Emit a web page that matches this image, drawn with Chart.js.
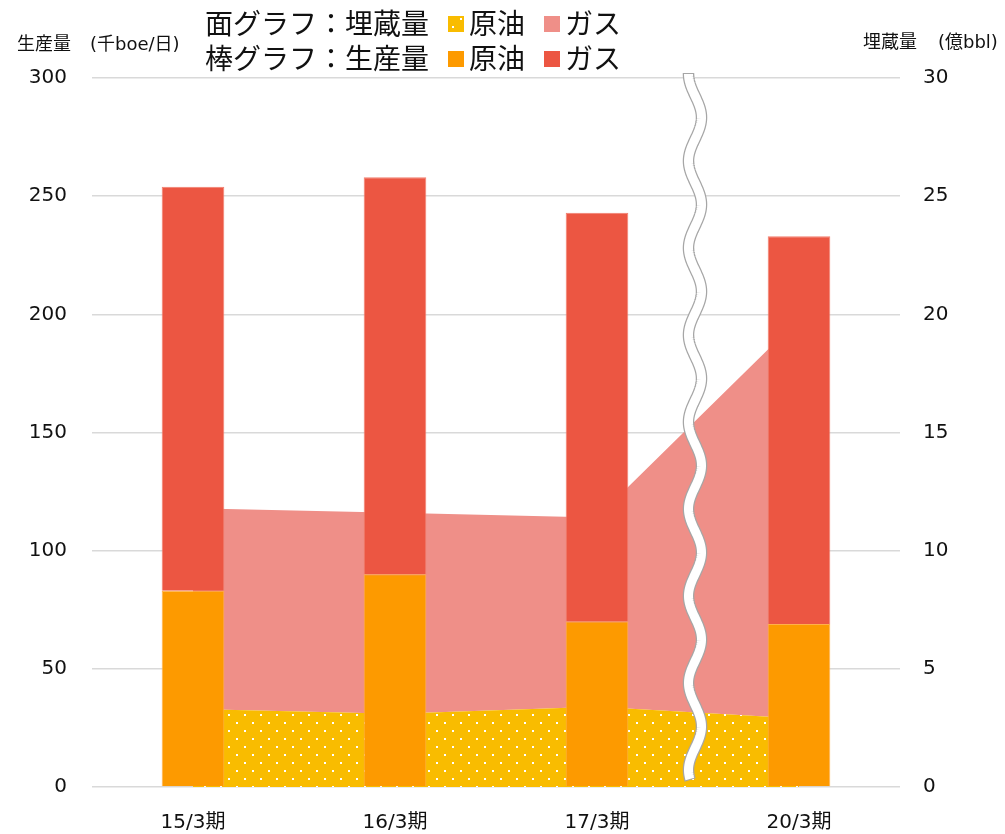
<!DOCTYPE html>
<html>
<head>
<meta charset="utf-8">
<script src="https://cdn.jsdelivr.net/npm/chart.js@4"></script>
<style>
  html, body { margin: 0; padding: 0; background: #fff; }
  #wrap { width: 1005px; height: 834px; position: relative; }
</style>
</head>
<body>
<div id="wrap"><canvas id="chart" width="1005" height="834"></canvas></div>
<script>
// 決算期
const categories = ['15/3期', '16/3期', '17/3期', '20/3期'];
// 棒グラフ：生産量（千boe/日）
const prodOil = [83, 90, 70, 69];
const prodGas = [171, 168, 173, 164];
// 面グラフ：埋蔵量（億bbl）
const reserveOil = [3.3, 3.1, 3.4, 2.9];
const reserveGas = [8.5, 8.5, 8.0, 16.9];
// 目盛
const leftTicks = [0, 50, 100, 150, 200, 250, 300];
const rightTicks = [0, 5, 10, 15, 20, 25, 30];

const FONT = '"DejaVu Sans", "Noto Sans CJK JP", sans-serif';
const JFONT = '"Noto Sans CJK JP", sans-serif';

const C_OIL_BAR = '#FD9A00';
const C_GAS_BAR = '#EC5642';
const C_OIL_AREA = '#F9BC00';
const C_GAS_AREA = '#EF8F88';

// 黄色に白い点の模様
function makeDots() {
    const c = document.createElement('canvas');
    c.width = 16; c.height = 16;
    const g = c.getContext('2d');
    g.fillStyle = C_OIL_AREA;
    g.fillRect(0, 0, 16, 16);
    g.fillStyle = '#fff';
    g.fillRect(4, 10, 2, 2);
    g.fillRect(12, 2, 2, 2);
    return g.createPattern(c, 'repeat');
}
const dots = makeDots();

// 凡例・軸タイトル・波線
const decor = {
    id: 'decor',
    afterDraw(chart) {
        const ctx = chart.ctx;
        const x = chart.scales.x;
        const area = chart.chartArea;

        // 波線（17/3期と20/3期の間）
        const cx = (x.getPixelForValue(2) + x.getPixelForValue(3)) / 2 - 3;
        const y0 = area.top - 4, y1 = area.bottom - 8;
        const wave = (a, b) => {
            ctx.beginPath();
            for (let y = a; y <= b; y += 1) {
                const wx = cx - 6.5 * Math.cos(2 * Math.PI * (y - y0) / 87);
                if (y === a) ctx.moveTo(wx, y); else ctx.lineTo(wx, y);
            }
        };
        ctx.save();
        ctx.lineCap = 'butt';
        wave(y0 - 1, y1 + 1);
        ctx.strokeStyle = '#a6a6a6';
        ctx.lineWidth = 11.5;
        ctx.stroke();
        wave(y0, y1);
        ctx.strokeStyle = '#fff';
        ctx.lineWidth = 9;
        ctx.stroke();
        ctx.restore();

        // 軸タイトル
        ctx.save();
        ctx.fillStyle = '#111';
        ctx.textBaseline = 'middle';
        ctx.font = '18px ' + FONT;
        ctx.textAlign = 'left';
        ctx.fillText('生産量', 17, 45);
        ctx.fillText('(千boe/日)', 90, 45);
        ctx.fillText('埋蔵量', 863, 43);
        ctx.fillText('(億bbl)', 938, 43);

        // 凡例
        const rows = [
            { label: '面グラフ：埋蔵量', y: 23, items: [['原油', dots], ['ガス', C_GAS_AREA]] },
            { label: '棒グラフ：生産量', y: 58, items: [['原油', C_OIL_BAR], ['ガス', C_GAS_BAR]] }
        ];
        ctx.font = '28px ' + JFONT;
        rows.forEach(r => {
            let px = 205;
            ctx.fillStyle = '#111';
            ctx.fillText(r.label, px, r.y);
            px += ctx.measureText(r.label).width + 19;
            r.items.forEach(([t, col]) => {
                ctx.fillStyle = col;
                ctx.fillRect(px, r.y - 7, 16, 16);
                px += 21;
                ctx.fillStyle = '#111';
                ctx.fillText(t, px, r.y);
                px += ctx.measureText(t).width + 19;
            });
        });
        ctx.restore();
    }
};

const barOpts = { categoryPercentage: 1, barPercentage: 0.31, borderWidth: 1, yAxisID: 'y', stack: 'prod', order: 0 };

const ctx = document.getElementById('chart').getContext('2d');
new Chart(ctx, {
    data: {
        labels: categories,
        datasets: [
            Object.assign({
                type: 'bar', label: '生産量 原油', data: prodOil,
                backgroundColor: C_OIL_BAR, borderColor: '#FFB04A'
            }, barOpts),
            Object.assign({
                type: 'bar', label: '生産量 ガス', data: prodGas,
                backgroundColor: C_GAS_BAR, borderColor: '#F27E6E'
            }, barOpts),
            {
                type: 'line', label: '埋蔵量 原油', data: reserveOil, yAxisID: 'y2', stack: 'res', order: 1,
                backgroundColor: dots, borderWidth: 0, pointRadius: 0, tension: 0, fill: 'origin'
            },
            {
                type: 'line', label: '埋蔵量 ガス', data: reserveGas, yAxisID: 'y2', stack: 'res', order: 1,
                backgroundColor: C_GAS_AREA, borderWidth: 0, pointRadius: 0, tension: 0, fill: '-1'
            }
        ]
    },
    options: {
        responsive: false,
        animation: false,
        layout: { padding: { top: 78, left: 0, right: 0, bottom: 0 } },
        plugins: {
            legend: { display: false },
            tooltip: { enabled: false }
        },
        scales: {
            x: {
                stacked: true,
                grid: { display: false, drawTicks: false, tickLength: 0 },
                border: { display: false },
                ticks: { color: '#111', font: { family: FONT, size: 20 }, padding: 24 },
                afterFit: s => { s.height = 47; }
            },
            y: {
                position: 'left',
                stacked: true,
                min: 0, max: 300,
                afterBuildTicks: s => { s.ticks = leftTicks.map(v => ({ value: v })); },
                grid: { color: '#d9d9d9', lineWidth: 1.5, drawTicks: false, tickLength: 0 },
                border: { display: false },
                ticks: { color: '#111', font: { family: FONT, size: 20 }, padding: 25 },
                afterFit: s => { s.width = 92; }
            },
            y2: {
                position: 'right',
                stacked: true,
                min: 0, max: 30,
                afterBuildTicks: s => { s.ticks = rightTicks.map(v => ({ value: v })); },
                grid: { display: false, drawTicks: false, tickLength: 0 },
                border: { display: false },
                ticks: { color: '#111', font: { family: FONT, size: 20 }, padding: 23 },
                afterFit: s => { s.width = 105; }
            }
        }
    },
    plugins: [decor]
});
</script>
</body>
</html>
